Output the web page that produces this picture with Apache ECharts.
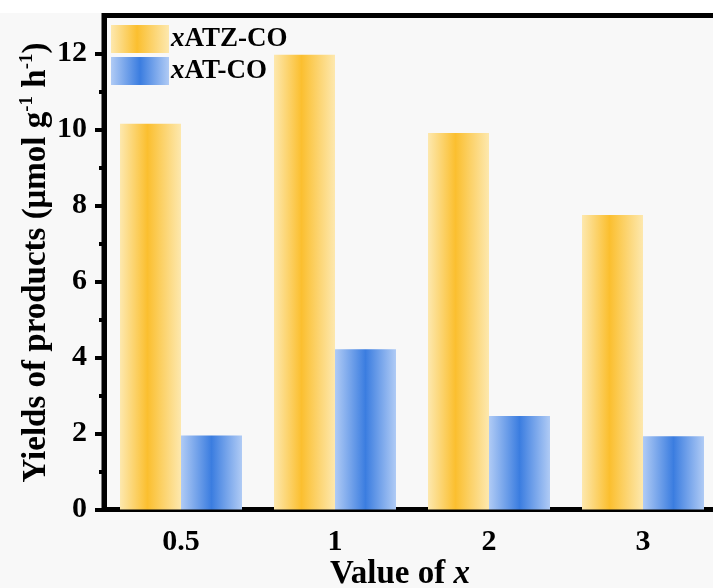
<!DOCTYPE html>
<html>
<head>
<meta charset="utf-8">
<script src="https://cdn.jsdelivr.net/npm/echarts@6/dist/echarts.min.js"></script>
<style>
html,body{margin:0;padding:0;background:#f8f8f8;}
#c{width:713px;height:588px;}
</style>
</head>
<body>
<div id="c"></div>
<script>
const categories = ['0.5', '1', '2', '3'];
const seriesNames = ['xATZ-CO', 'xAT-CO'];
const atzCO = [10.15, 11.97, 9.91, 7.75];
const atCO = [1.95, 4.22, 2.46, 1.93];
const yMajorTicks = [0, 2, 4, 6, 8, 10, 12];
const yMinorTicks = [1, 3, 5, 7, 9, 11];

const FONT = '"Liberation Serif", "Times New Roman", serif';
const black = '#000';

function grad(edge, center, pos) {
  return new echarts.graphic.LinearGradient(0, 0, 1, 0, [
    {offset: 0, color: edge},
    {offset: pos, color: center},
    {offset: 1, color: edge}
  ]);
}
const yellow = grad('#fde8ae', '#fbbf2f', 0.45);
const blue = grad('#b0cbf5', '#3b7de0', 0.5);

const chart = echarts.init(document.getElementById('c'), null, {renderer: 'canvas'});
chart.setOption({
  backgroundColor: '#f8f8f8',
  animation: false,
  graphic: [{
    type: 'rect', left: 0, top: 0, z: -1,
    shape: {width: 713, height: 13},
    style: {fill: '#ffffff'}
  }],
  grid: {
    left: 104, top: 15.5, right: -7, bottom: 78.5,
    outerBoundsMode: 'none', containLabel: false,
    show: true, borderColor: black, borderWidth: 5, backgroundColor: 'transparent'
  },
  legend: {
    left: 106, top: 20, orient: 'vertical',
    itemWidth: 58, itemHeight: 28, itemGap: 4,
    icon: 'rect',
    data: seriesNames,
    formatter: function (n) { return '{i|x}{b|' + n.slice(1) + '}'; },
    textStyle: {
      padding: [0, 0, 0, -3],
      rich: {
        i: {fontFamily: FONT, fontStyle: 'italic', fontWeight: 'bold', fontSize: 27, color: black},
        b: {fontFamily: FONT, fontWeight: 'bold', fontSize: 27, color: black}
      }
    }
  },
  xAxis: [{
    type: 'category',
    data: categories,
    boundaryGap: true,
    axisLine: {lineStyle: {color: black, width: 5}},
    axisTick: {alignWithLabel: true, length: 8, lineStyle: {color: black, width: 4}},
    axisLabel: {margin: 18, fontFamily: FONT, fontWeight: 'bold', fontSize: 30, color: black},
    name: '{b|Value of }{i|x}',
    nameLocation: 'middle',
    nameGap: 48,
    nameMoveOverlap: false,
    nameTextStyle: {
      padding: [0, 24, 0, 0],
      rich: {
        b: {fontFamily: FONT, fontWeight: 'bold', fontSize: 33, color: black},
        i: {fontFamily: FONT, fontStyle: 'italic', fontWeight: 'bold', fontSize: 33, color: black}
      }
    }
  }, {
    type: 'category',
    data: categories,
    position: 'bottom',
    boundaryGap: true,
    axisLine: {show: false},
    axisTick: {alignWithLabel: false, length: 5, lineStyle: {color: black, width: 4}},
    axisLabel: {show: false}
  }],
  yAxis: [{
    type: 'value',
    min: 0, max: 13,
    axisLine: {show: true, lineStyle: {color: black, width: 5}},
    axisTick: {show: true, length: 9, customValues: yMajorTicks, lineStyle: {color: black, width: 4}},
    axisLabel: {margin: 17, customValues: yMajorTicks, fontFamily: FONT, fontWeight: 'bold', fontSize: 30, color: black},
    splitLine: {show: false},
    name: '{b|Yields of products (μmol g}{s|-1}{b| h}{s|-1}{b|)}',
    nameLocation: 'middle',
    nameRotate: 90,
    nameGap: 50,
    nameMoveOverlap: false,
    nameTextStyle: {
      rich: {
        b: {fontFamily: FONT, fontWeight: 'bold', fontSize: 33, color: black, lineHeight: 36},
        s: {fontFamily: FONT, fontWeight: 'bold', fontSize: 19, color: black, verticalAlign: 'top', lineHeight: 36, padding: [0, 0, 14, 0]}
      }
    }
  }, {
    type: 'value',
    min: 0, max: 13,
    position: 'left',
    axisLine: {show: false},
    axisTick: {show: true, length: 5, customValues: yMinorTicks, lineStyle: {color: black, width: 4}},
    axisLabel: {show: false},
    splitLine: {show: false}
  }],
  series: [{
    name: seriesNames[0], type: 'bar', xAxisIndex: 0, yAxisIndex: 0,
    data: atzCO, barWidth: 61, barGap: '0%',
    itemStyle: {color: yellow}
  }, {
    name: seriesNames[1], type: 'bar', xAxisIndex: 0, yAxisIndex: 0,
    data: atCO, barWidth: 61, barGap: '0%',
    itemStyle: {color: blue}
  }]
});
</script>
</body>
</html>
